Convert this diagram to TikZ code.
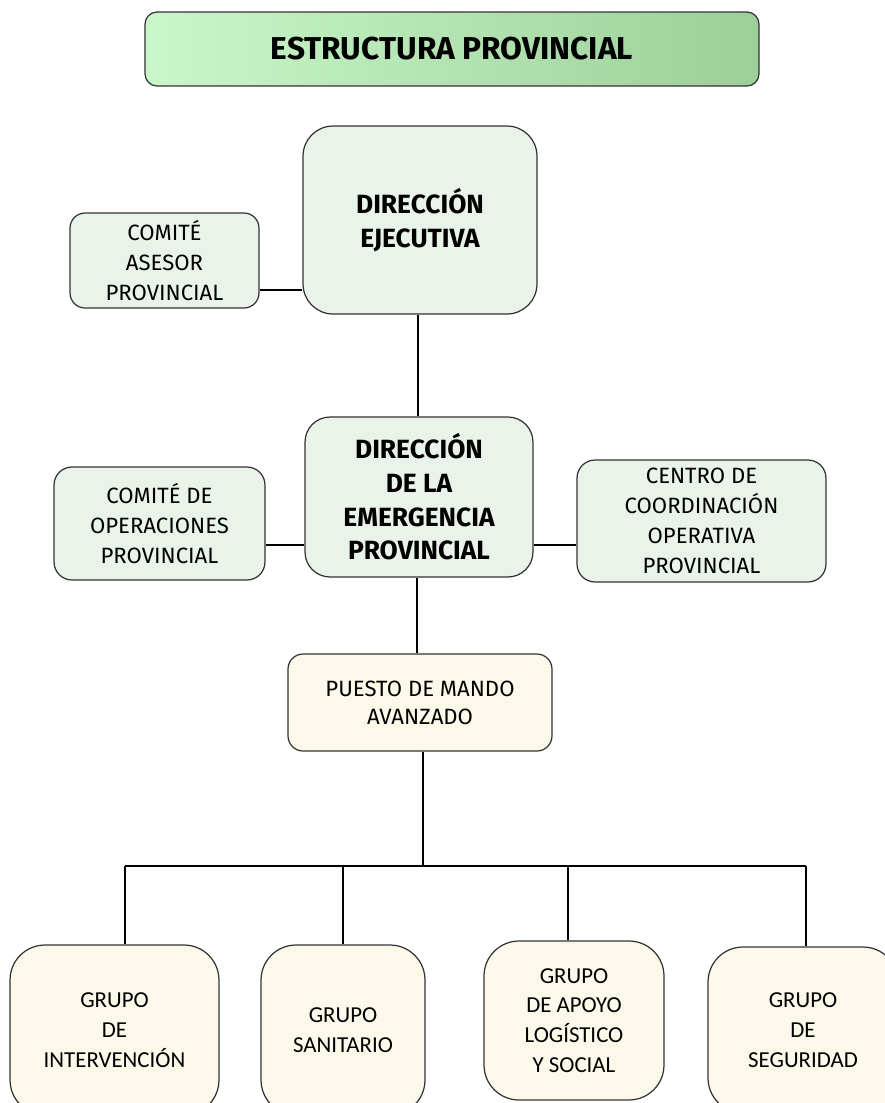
\documentclass[tikz,border=0pt]{standalone}
\usepackage{fontspec}
\setmainfont{Fira Sans}
\newfontfamily\grupofont{Carlito}
\definecolor{titleleft}{HTML}{CAF7CA}
\definecolor{titleright}{HTML}{9CCF99}
\definecolor{greenfill}{HTML}{E9F3E9}
\definecolor{yellowfill}{HTML}{FCF9EA}
\definecolor{edge}{HTML}{333333}
\tikzset{
    basebox/.style={draw=edge, line width=0.7pt, align=center, inner sep=0pt},
    greenbox/.style={basebox, fill=greenfill, font=\fontsize{12.6}{17}\selectfont},
    boldbox/.style={basebox, fill=greenfill, font=\fontsize{15}{19.2}\selectfont\bfseries},
    yellowbox/.style={basebox, fill=yellowfill, font=\fontsize{12.6}{16}\selectfont},
    grupobox/.style={basebox, fill=yellowfill, rounded corners=0.7cm, minimum height=3.4cm, font=\grupofont\fontsize{13}{17}\selectfont},
    link/.style={draw=black, line width=0.6pt}
}
\begin{document}
\begin{tikzpicture}[x=0.02cm, y=-0.02cm]
        \useasboundingbox (0,0) rectangle (885,1103);
        \clip (0,0) rectangle (885,1103);

        % Title
        \node[basebox, left color=titleleft, right color=titleright, rounded corners=0.24cm,
              minimum width=12.28cm, minimum height=1.48cm, font=\fontsize{18}{22}\selectfont\bfseries]
              (title) at (452,49) {ESTRUCTURA PROVINCIAL};

        % Upper level
        \node[boldbox, rounded corners=0.6cm, minimum width=4.68cm, minimum height=3.76cm] (de) at (420,220) {DIRECCIÓN\\EJECUTIVA};
        \node[greenbox, rounded corners=0.3cm, minimum width=3.78cm, minimum height=1.9cm] (cap) at (164.5,260.5) {COMITÉ\\ASESOR\\PROVINCIAL};

        % Emergency direction and its side boxes
        \node[boldbox, rounded corners=0.5cm, minimum width=4.56cm, minimum height=3.2cm] (dep) at (419,497) {DIRECCIÓN\\DE LA\\EMERGENCIA\\PROVINCIAL};
        \node[greenbox, rounded corners=0.36cm, minimum width=4.22cm, minimum height=2.26cm] (cop) at (159.5,523.5) {COMITÉ DE\\OPERACIONES\\PROVINCIAL};
        \node[greenbox, rounded corners=0.36cm, minimum width=4.98cm, minimum height=2.44cm] (cecop) at (701.5,521) {CENTRO DE\\COORDINACIÓN\\OPERATIVA\\PROVINCIAL};

        % Forward command post
        \node[yellowbox, rounded corners=0.3cm, minimum width=5.28cm, minimum height=1.94cm] (pma) at (420,702.5) {PUESTO DE MANDO\\AVANZADO};

        % Groups
        \node[grupobox, minimum width=4.18cm] (g1) at (114.5,1030) {GRUPO\\DE\\INTERVENCIÓN};
        \node[grupobox, minimum width=3.28cm] (g2) at (343,1030) {GRUPO\\SANITARIO};
        \node[grupobox, minimum width=3.6cm, minimum height=3.18cm] (g3) at (574,1020.5) {GRUPO\\DE APOYO\\LOGÍSTICO\\Y SOCIAL};
        \node[grupobox, minimum width=3.8cm, minimum height=3.32cm] (g4) at (803,1030) {GRUPO\\DE\\SEGURIDAD};

        % Connectors
        \draw[link] (cap.east |- 0,290) -- (de.west |- 0,290);
        \draw[link] (de.south -| 418,0) -- (dep.north -| 418,0);
        \draw[link] (cop.east |- 0,545) -- (dep.west |- 0,545);
        \draw[link] (dep.east |- 0,545) -- (cecop.west |- 0,545);
        \draw[link] (dep.south -| 417,0) -- (pma.north -| 417,0);

        % Branch to the groups
        \path (pma.south -| 423,0) coordinate (pmaout);
        \coordinate (bar) at (pmaout |- 0,866);
        \draw[link] (pmaout) -- (bar);
        \draw[link] (bar -| 125,0) -- (bar -| 806,0);
        \foreach \g/\x in {g1/125, g2/343, g3/568, g4/806} {
            \draw[link] (bar -| \x,0) -- (\g.north -| \x,0);
        }
\end{tikzpicture}
\end{document}
